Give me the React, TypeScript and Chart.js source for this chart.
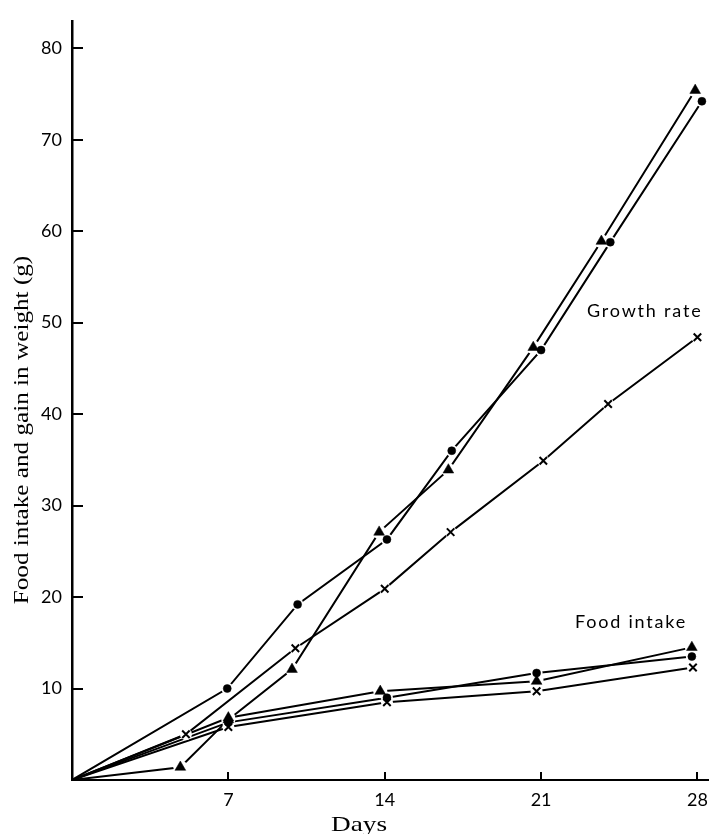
import React, { useEffect, useRef } from "react";
import { Chart, registerables } from "chart.js";
Chart.register(...registerables);

// ---- Data (days, grams) ----
const xTickValues = [7, 14, 21, 28];
const yTickValues = [10, 20, 30, 40, 50, 60, 70, 80];

// Growth rate (gain in weight)
const growthCircleDays = [0, 6.95, 10.1, 14.1, 17.0, 21.0, 24.1, 28.2];
const growthCircleVals = [0, 10.0, 19.2, 26.3, 36.0, 47.0, 58.8, 74.2];

const growthTriangleDays = [0, 4.85, 7.0, 9.85, 13.75, 16.85, 20.65, 23.7, 27.9];
const growthTriangleVals = [0, 1.4, 6.6, 12.1, 27.1, 33.9, 47.3, 58.9, 75.4];

const growthCrossDays = [0, 5.1, 10.0, 14.0, 16.95, 21.1, 24.0, 28.0];
const growthCrossVals = [0, 5.0, 14.4, 20.9, 27.1, 34.9, 41.1, 48.4];

// Food intake
const foodCircleDays = [0, 7.0, 14.1, 20.8, 27.75];
const foodCircleVals = [0, 6.3, 9.0, 11.7, 13.5];

const foodTriangleDays = [0, 7.0, 13.8, 20.8, 27.75];
const foodTriangleVals = [0, 6.8, 9.7, 10.8, 14.5];

const foodCrossDays = [0, 7.0, 14.1, 20.8, 27.8];
const foodCrossVals = [0, 5.8, 8.5, 9.7, 12.3];

const labelGrowth = "Growth rate";
const labelFood = "Food intake";
const yTitle = "Food intake and gain in weight (g)";
const xTitle = "Days";

function pts(days: number[], vals: number[]) {
  return days.map((d, i) => ({ x: d, y: vals[i] }));
}

type Kind = "circle" | "triangle" | "cross";

function makeDataset(days: number[], vals: number[], kind: Kind) {
  const base: any = {
    data: pts(days, vals),
    borderColor: "#000",
    borderWidth: 2,
    tension: 0,
    fill: false,
    pointHoverRadius: 0,
    pointBackgroundColor: "#000",
    pointBorderColor: "#000",
    halo: kind === "triangle" ? 7 : 6,
  };
  if (kind === "circle") {
    base.pointStyle = "circle";
    base.pointRadius = (c: any) => (c.dataIndex === 0 ? 0 : 4);
    base.pointBorderWidth = 0.5;
  } else if (kind === "triangle") {
    base.pointStyle = "triangle";
    base.pointRadius = (c: any) => (c.dataIndex === 0 ? 0 : 6.2);
    base.pointBorderWidth = 0.5;
  } else {
    base.pointStyle = "crossRot";
    base.pointRadius = (c: any) => (c.dataIndex === 0 ? 0 : 5.3);
    base.pointBorderWidth = 2;
  }
  return base;
}

// white gaps around markers (lines broken near points), then markers redrawn
const haloPlugin = {
  id: "halo",
  afterDatasetsDraw(chart: any) {
    const { ctx } = chart;
    ctx.save();
    ctx.fillStyle = "#fff";
    chart.data.datasets.forEach((ds: any, di: number) => {
      const meta = chart.getDatasetMeta(di);
      meta.data.forEach((el: any, i: number) => {
        if (i === 0) return;
        ctx.beginPath();
        ctx.arc(el.x, el.y, ds.halo, 0, Math.PI * 2);
        ctx.fill();
      });
    });
    ctx.restore();
    chart.data.datasets.forEach((ds: any, di: number) => {
      const meta = chart.getDatasetMeta(di);
      meta.data.forEach((el: any, i: number) => {
        if (i === 0) return;
        el.draw(ctx, chart.chartArea);
      });
    });
  },
};

const tickPlugin = {
  id: "inwardTicks",
  afterDraw(chart: any) {
    const { ctx, chartArea, scales } = chart;
    ctx.save();
    ctx.strokeStyle = "#000";
    ctx.lineWidth = 2;
    yTickValues.forEach((v) => {
      const y = Math.round(scales.y.getPixelForValue(v));
      ctx.beginPath();
      ctx.moveTo(chartArea.left, y);
      ctx.lineTo(chartArea.left + 11, y);
      ctx.stroke();
    });
    xTickValues.forEach((v) => {
      const x = Math.round(scales.x.getPixelForValue(v));
      ctx.beginPath();
      ctx.moveTo(x, chartArea.bottom);
      ctx.lineTo(x, chartArea.bottom - 8);
      ctx.stroke();
    });

    // annotations
    ctx.fillStyle = "#000";
    ctx.textBaseline = "alphabetic";
    ctx.textAlign = "left";
    ctx.font = "18px Lato";
    (ctx as any).letterSpacing = "1.8px";
    ctx.fillText(labelGrowth, 587, 317);
    ctx.fillText(labelFood, 575, 628);
    (ctx as any).letterSpacing = "0px";
    ctx.restore();

    // axis titles (wide serif face: horizontally stretched)
    ctx.save();
    ctx.fillStyle = "#000";
    ctx.font = "21px 'Liberation Serif'";
    ctx.textAlign = "center";
    ctx.textBaseline = "alphabetic";
    ctx.translate(359, 831);
    ctx.scale(1.3, 1);
    ctx.fillText(xTitle, 0, 0);
    ctx.restore();

    ctx.save();
    ctx.fillStyle = "#000";
    ctx.font = "21px 'Liberation Serif'";
    ctx.textAlign = "center";
    ctx.textBaseline = "alphabetic";
    ctx.translate(27.5, 430);
    ctx.rotate(-Math.PI / 2);
    ctx.scale(1.2, 1);
    ctx.fillText(yTitle, 0, 0);
    ctx.restore();
  },
};

export default function App() {
  const ref = useRef<HTMLCanvasElement>(null);
  useEffect(() => {
    if (!ref.current) return;
    const chart = new Chart(ref.current, {
      type: "line",
      data: {
        datasets: [
          makeDataset(foodCrossDays, foodCrossVals, "cross"),
          makeDataset(foodCircleDays, foodCircleVals, "circle"),
          makeDataset(foodTriangleDays, foodTriangleVals, "triangle"),
          makeDataset(growthCrossDays, growthCrossVals, "cross"),
          makeDataset(growthTriangleDays, growthTriangleVals, "triangle"),
          makeDataset(growthCircleDays, growthCircleVals, "circle"),
        ],
      },
      options: {
        animation: false,
        responsive: false,
        devicePixelRatio: 1,
        layout: { padding: { top: 13, right: 2, left: 0, bottom: 0 } },
        plugins: { legend: { display: false }, tooltip: { enabled: false } },
        scales: {
          x: {
            type: "linear",
            min: 0,
            max: 28.5,
            grid: { display: false, drawTicks: false },
            border: { display: true, color: "#000", width: 2 },
            afterBuildTicks: (s: any) => {
              s.ticks = xTickValues.map((v) => ({ value: v }));
            },
            afterFit: (s: any) => {
              s.height = 54;
            },
            ticks: {
              color: "#000",
              padding: 9,
              autoSkip: false,
              maxRotation: 0,
              font: { family: "Lato", size: 18 },
              callback: (v: any) => String(v),
            },
          },
          y: {
            type: "linear",
            min: 0,
            max: 83,
            grid: { display: false, drawTicks: false },
            border: { display: true, color: "#000", width: 2.5 },
            afterBuildTicks: (s: any) => {
              s.ticks = yTickValues.map((v) => ({ value: v }));
            },
            afterFit: (s: any) => {
              s.width = 72;
            },
            ticks: {
              color: "#000",
              padding: 10,
              autoSkip: false,
              font: { family: "Lato", size: 18 },
              callback: (v: any) => String(v),
            },
          },
        },
      },
      plugins: [haloPlugin, tickPlugin],
    });
    return () => chart.destroy();
  }, []);
  return (
    <div style={{ position: "fixed", left: 0, top: 0, width: 717, height: 834, background: "#fff" }}>
      <canvas ref={ref} width={717} height={834} style={{ display: "block" }} />
    </div>
  );
}
